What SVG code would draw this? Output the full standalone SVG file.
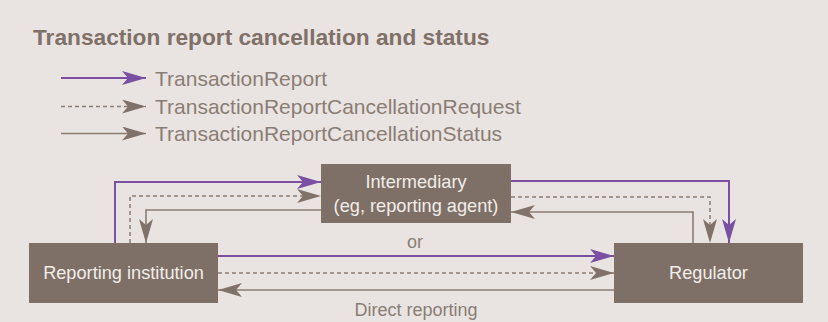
<svg xmlns="http://www.w3.org/2000/svg" width="828" height="322" viewBox="0 0 828 322">
<defs>
<style>
.bg{fill:#e9e4e1}
.box{fill:#7f7067}
.title{font-family:"Liberation Sans",Arial,sans-serif;font-weight:bold;font-size:22.7px;fill:#7f7068}
.leg{font-family:"Liberation Sans",Arial,sans-serif;font-size:21px;fill:#8a7d75}
.lbl{font-family:"Liberation Sans",Arial,sans-serif;font-size:18.2px;fill:#f1ede9;text-anchor:middle}
.note{font-family:"Liberation Sans",Arial,sans-serif;font-size:18px;fill:#8a7d75;text-anchor:middle}
.tr{fill:none;stroke:#7a50a2;stroke-width:2;marker-end:url(#ap)}
.rq{fill:none;stroke:#8a7c73;stroke-width:1.5;stroke-dasharray:4 3;marker-end:url(#ag)}
.st{fill:none;stroke:#8a7c73;stroke-width:1.6;marker-end:url(#ag)}
</style>
<marker id="ap" markerUnits="userSpaceOnUse" markerWidth="24" markerHeight="14" refX="24" refY="7" orient="auto" viewBox="0 0 24 14">
<path d="M0,0 L24,7 L0,14 L6,7 Z" fill="#7a50a2"/>
</marker>
<marker id="ag" markerUnits="userSpaceOnUse" markerWidth="24" markerHeight="14" refX="24" refY="7" orient="auto" viewBox="0 0 24 14">
<path d="M0,0 L24,7 L0,14 L6,7 Z" fill="#80726a"/>
</marker>
</defs>
<rect class="bg" x="0" y="0" width="828" height="322"/>
<text class="title" x="33" y="45">Transaction report cancellation and status</text>
<g id="legend">
<path class="tr" d="M61,78 H146"/>
<path class="rq" d="M61,106.5 H146"/>
<path class="st" d="M61,133.5 H146"/>
<text class="leg" x="155" y="85.5">TransactionReport</text>
<text class="leg" x="155" y="113.5">TransactionReportCancellationRequest</text>
<text class="leg" x="155" y="141">TransactionReportCancellationStatus</text>
</g>
<g id="connectors">
<path class="tr" d="M115,243 V182 H321"/>
<path class="rq" d="M130,243 V196 H321"/>
<path class="st" d="M321,210 H146 V243"/>
<path class="tr" d="M511,181 H729 V243"/>
<path class="rq" d="M511,197 H710 V243"/>
<path class="st" d="M693,243 V212 H511"/>
<path class="tr" d="M218,256 H614"/>
<path class="rq" d="M218,273 H614"/>
<path class="st" d="M614,290 H218"/>
<text class="note" x="415" y="248">or</text>
<text class="note" x="416" y="316">Direct reporting</text>
</g>
<g id="intermediary">
<rect class="box" x="321" y="164" width="190" height="59"/>
<text class="lbl" x="416" y="188">Intermediary</text>
<text class="lbl" x="416" y="212">(eg, reporting agent)</text>
</g>
<g id="reporting-institution">
<rect class="box" x="29" y="243" width="189" height="60"/>
<text class="lbl" x="123.5" y="279">Reporting institution</text>
</g>
<g id="regulator">
<rect class="box" x="614" y="243" width="189" height="60"/>
<text class="lbl" x="708.5" y="279">Regulator</text>
</g>
</svg>
